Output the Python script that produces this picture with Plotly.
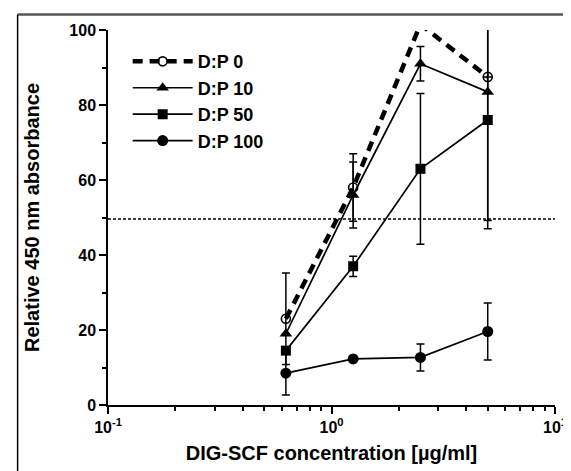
import plotly.graph_objects as go

conc = [0.625, 1.25, 2.5, 5.0]

dp0_y = [23.0, 58.0, 101.5, 87.5]
dp0_err = [12.2, 9.0, 0.0, 0.0]
dp10_y = [19.0, 56.0, 91.0, 83.5]
dp10_err = [0.0, 8.8, 4.6, 34.3]
dp50_y = [14.5, 37.0, 63.0, 76.0]
dp50_err = [0.0, 2.7, 20.1, 29.0]
dp100_y = [8.5, 12.3, 12.7, 19.6]
dp100_err = [5.8, 0.0, 3.6, 7.6]

threshold = 49.6

x_major = [0.1, 1, 10]
x_major_text = ["10<sup>-1</sup>", "10<sup>0</sup>", "10<sup>1</sup>"]
x_minor = [m * d for d in (0.1, 1) for m in range(2, 10)]
y_major = [0, 20, 40, 60, 80, 100]
y_minor = [10, 30, 50, 70, 90]

FONT = "Liberation Sans, Arial, sans-serif"

fig = go.Figure()

def add(name, y, err, symbol, msize, dash, width, rank, mlw=0):
    fig.add_trace(go.Scatter(
        x=conc, y=y, name=name, mode="lines+markers",
        line=dict(color="black", width=width, dash=dash),
        marker=dict(symbol=symbol, size=msize, color="black",
                    line=dict(color="black", width=mlw)),
        error_y=dict(type="data", array=err, visible=True, color="black",
                     thickness=1.5, width=4),
        legendrank=rank, cliponaxis=True,
    ))

add("D:P 100", dp100_y, dp100_err, "circle", 11, "solid", 1.7, 4)
add("D:P 50", dp50_y, dp50_err, "square", 10, "solid", 1.7, 3)
add("D:P 10", dp10_y, dp10_err, "triangle-up", 11, "solid", 1.7, 2)
add("D:P 0", dp0_y, dp0_err, "circle-open", 9, "10px,7px", 4.5, 1, mlw=1.6)

fig.add_shape(type="line", xref="paper", yref="y", x0=0, x1=1,
              y0=threshold, y1=threshold,
              line=dict(color="black", width=1.5, dash="3px,2px"))

# outer frame lines (top and left only visible)
fig.add_shape(type="line", xref="paper", yref="paper", x0=-0.2022, x1=1.05,
              y0=1.0413, y1=1.0413, line=dict(color="#555555", width=2.5))
fig.add_shape(type="line", xref="paper", yref="paper", x0=-0.2022, x1=-0.2022,
              y0=1.0413, y1=-0.2, line=dict(color="black", width=1.5))

fig.update_layout(
    width=571, height=471,
    margin=dict(l=100, r=16, t=22, b=74),
    plot_bgcolor="white", paper_bgcolor="white",
    font=dict(family=FONT, color="black", size=16),
    showlegend=True,
    legend=dict(x=0.044, y=0.965, xanchor="left", yanchor="top",
                bgcolor="rgba(0,0,0,0)", itemwidth=60, tracegroupgap=0,
                font=dict(family=FONT, size=18, color="black", weight="bold"),
                traceorder="normal"),
    xaxis=dict(
        type="log", range=[-1, 1],
        tickmode="array", tickvals=x_major, ticktext=x_major_text,
        ticks="outside", ticklen=7, tickwidth=1.5, tickcolor="black",
        showline=True, linecolor="black", linewidth=1.5,
        showgrid=False, zeroline=False,
        tickfont=dict(family=FONT, size=16, weight="bold"),
        minor=dict(tickmode="array", tickvals=x_minor, ticks="outside",
                   ticklen=4, tickwidth=1.5, tickcolor="black", showgrid=False),
        title=dict(text="DIG-SCF concentration [µg/ml]", standoff=11,
                   font=dict(family=FONT, size=20, weight="bold")),
    ),
    yaxis=dict(
        range=[0, 100],
        tickmode="array", tickvals=y_major,
        ticks="outside", ticklen=7, tickwidth=1.5, tickcolor="black",
        showline=True, linecolor="black", linewidth=1.5,
        showgrid=False, zeroline=False,
        tickfont=dict(family=FONT, size=16, weight="bold"),
        minor=dict(tickmode="array", tickvals=y_minor, ticks="outside",
                   ticklen=4, tickwidth=1.5, tickcolor="black", showgrid=False),
        title=dict(text="Relative 450 nm absorbance", standoff=24,
                   font=dict(family=FONT, size=20, weight="bold")),
    ),
)

fig.write_html("out.html")
